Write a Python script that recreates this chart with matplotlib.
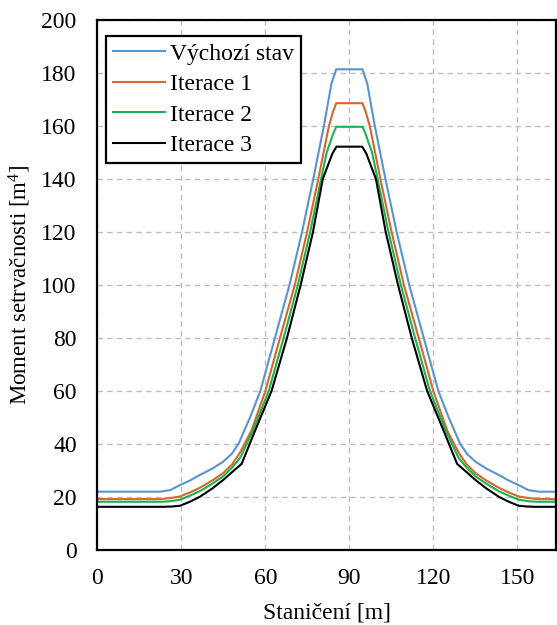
import matplotlib
matplotlib.use("Agg")
import matplotlib.pyplot as plt

# ---- data ----
x_vychozi = [0, 22.3, 26.0, 29.5, 33.0, 36.6, 41.0, 44.9, 48.0, 50.5, 54.5, 58.2, 63.4, 68.6, 73.1, 77.1, 80.9, 83.6, 85.3,
             94.7, 96.4, 99.1, 102.9, 106.9, 111.4, 116.6, 121.8, 125.5, 129.5, 132.0, 135.1, 139.0, 143.4, 147.0, 150.5, 154.0, 157.7, 165]
y_vychozi = [22, 22, 22.6, 24.5, 26.2, 28.3, 30.7, 33.3, 36.3, 40.3, 50, 60, 80, 100, 120, 140, 160, 176, 181.4,
             181.4, 176, 160, 140, 120, 100, 80, 60, 50, 40.3, 36.3, 33.3, 30.7, 28.3, 26.2, 24.5, 22.6, 22, 22]

x_iter1 = [0, 22.5, 26.0, 29.5, 33.0, 36.6, 41.0, 44.9, 48.0, 50.8, 55.0, 60.0, 65.2, 70.5, 74.9, 78.9, 82.7, 84.2, 85.3,
           94.7, 95.8, 97.3, 101.1, 105.1, 109.5, 114.8, 120.0, 125.0, 129.2, 132.0, 135.1, 139.0, 143.4, 147.0, 150.5, 154.0, 157.5, 165]
y_iter1 = [19.2, 19.2, 19.6, 20.2, 21.7, 23.5, 26.2, 29.0, 32.2, 36.5, 45, 60, 80, 100, 120, 140, 160, 165.5, 168.6,
           168.6, 165.5, 160, 140, 120, 100, 80, 60, 45, 36.5, 32.2, 29.0, 26.2, 23.5, 21.7, 20.2, 19.6, 19.2, 19.2]

x_iter2 = [0, 23.0, 26.0, 29.5, 33.0, 36.6, 41.0, 44.9, 48.0, 51.0, 55.5, 61.2, 66.5, 71.6, 76.0, 79.9, 81.9, 84.2, 85.3,
           94.7, 95.8, 98.1, 100.1, 104.0, 108.4, 113.5, 118.8, 124.5, 129.0, 132.0, 135.1, 139.0, 143.4, 147.0, 150.5, 154.0, 157.0, 165]
y_iter2 = [18.2, 18.2, 18.4, 19.0, 20.5, 22.2, 25.0, 27.8, 31.0, 34.8, 45, 60, 80, 100, 120, 140, 150, 157, 159.7,
           159.7, 157, 150, 140, 120, 100, 80, 60, 45, 34.8, 31.0, 27.8, 25.0, 22.2, 20.5, 19.0, 18.4, 18.2, 18.2]

x_iter3 = [0, 23.5, 26.5, 29.5, 33.0, 36.6, 41.0, 44.9, 48.0, 51.5, 56.3, 62.2, 67.7, 72.6, 77.0, 80.5, 83.9, 85.4,
           94.6, 96.1, 99.5, 103.0, 107.4, 112.3, 117.8, 123.7, 128.5, 132.0, 135.1, 139.0, 143.4, 147.0, 150.5, 153.5, 156.5, 165]
y_iter3 = [16.3, 16.3, 16.4, 16.7, 18.2, 20.1, 23.2, 26.4, 29.3, 32.5, 45, 60, 80, 100, 120, 140, 149.5, 152.2,
           152.2, 149.5, 140, 120, 100, 80, 60, 45, 32.5, 29.3, 26.4, 23.2, 20.1, 18.2, 16.7, 16.4, 16.3, 16.3]

labels = ["Výchozí stav", "Iterace 1", "Iterace 2", "Iterace 3"]
colors = ["#5B93CC", "#D2692A", "#1DB050", "#000000"]
x_ticks = [0, 30, 60, 90, 120, 150]
y_ticks = [0, 20, 40, 60, 80, 100, 120, 140, 160, 180, 200]

# ---- style ----
plt.rcParams['font.family'] = ['Liberation Serif', 'DejaVu Serif']
plt.rcParams['mathtext.fontset'] = 'custom'
plt.rcParams['mathtext.rm'] = 'Liberation Serif'
plt.rcParams['mathtext.it'] = 'Liberation Serif:italic'

fig = plt.figure(figsize=(5.57, 6.25), dpi=100)
ax = fig.add_axes([0.175, 0.12, 0.824, 0.848])

series = [(x_vychozi, y_vychozi), (x_iter1, y_iter1), (x_iter2, y_iter2), (x_iter3, y_iter3)]
for (xs, ys), lab, col in zip(series, labels, colors):
    ax.plot(xs, ys, color=col, lw=1.5, label=lab, solid_joinstyle='round')

ax.set_xlim(0, 164)
ax.set_ylim(0, 200)
ax.set_xticks(x_ticks)
ax.set_yticks(y_ticks)
ax.tick_params(axis='x', length=0, labelsize=17, pad=13)
ax.tick_params(axis='y', length=0, labelsize=17, pad=15)
ax.grid(True, color='#BFBFBF', linestyle=(0, (4, 3)), lw=1.0)
ax.set_axisbelow(True)
for s in ax.spines.values():
    s.set_linewidth(1.6)
    s.set_color('black')

ax.set_xlabel("Staničení [m]", fontsize=17, labelpad=10)
ax.set_ylabel("Moment setrvačnosti [m$^{4}$]", fontsize=16.5, labelpad=6)

leg = ax.legend(loc='upper left', bbox_to_anchor=(0.019, 0.97), fontsize=17,
                frameon=True, fancybox=False, framealpha=1, edgecolor='black',
                handlelength=2.2, handletextpad=0.2, borderpad=0.3, labelspacing=0.38,
                borderaxespad=0)
leg.get_frame().set_linewidth(1.6)

fig.savefig("out.png", dpi=100)
